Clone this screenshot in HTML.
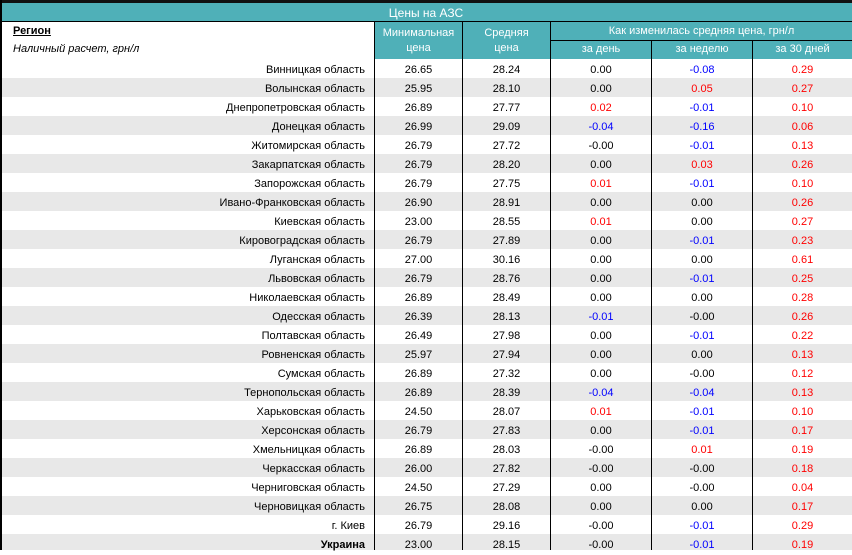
<!DOCTYPE html>
<html><head><meta charset="utf-8"><style>
*{margin:0;padding:0;box-sizing:border-box}
body{width:852px;height:550px;overflow:hidden;background:#fff;font-family:"Liberation Sans",Arial,sans-serif;font-size:11px;color:#000;position:relative}
.a{position:absolute}
.t{position:absolute;text-align:center;color:#fff}
.r{position:absolute;left:0;width:852px;height:19px;line-height:19px}
.r.g{background:#e8e8e8}
.r span{position:absolute;top:2px;text-align:center}
.c0{left:0;width:365px;text-align:right!important}
.c1{left:375px;width:87px}.c2{left:463px;width:87px}.c3{left:551px;width:100px}.c4{left:652px;width:100px}.c5{left:753px;width:99px}
.b{color:#0000ff}.red{color:#ff0000}
.v{position:absolute;top:22px;width:1px;height:528px;background:#000}
</style></head><body>
<div class="a" style="left:0;top:0;width:852px;height:3px;background:#111"></div>
<div class="a" style="left:0;top:3px;width:852px;height:18px;background:#4fb0b8;color:#fff;text-align:center;line-height:20px;font-size:12px">Цены на АЗС</div>
<div class="a" style="left:0;top:21px;width:852px;height:1px;background:#000"></div>
<div class="a" style="left:375px;top:22px;width:477px;height:37px;background:#4fb0b8"></div>
<div class="a" style="left:551px;top:40px;width:301px;height:1px;background:#000"></div>
<div class="a" style="left:13px;top:25px;font-weight:bold;text-decoration:underline">Регион</div>
<div class="a" style="left:13px;top:43px;font-style:italic">Наличный расчет, грн/л</div>
<div class="t" style="left:375px;top:26px;width:87px;line-height:15px">Минимальная<br>цена</div>
<div class="t" style="left:463px;top:26px;width:87px;line-height:15px">Средняя<br>цена</div>
<div class="t" style="left:551px;top:25px;width:301px">Как изменилась средняя цена, грн/л</div>
<div class="t" style="left:551px;top:43px;width:100px">за день</div>
<div class="t" style="left:652px;top:43px;width:100px">за неделю</div>
<div class="t" style="left:753px;top:43px;width:99px">за 30 дней</div>
<div class="r" style="top:59px"><span class="c0">Винницкая область</span><span class="c1">26.65</span><span class="c2">28.24</span><span class="c3">0.00</span><span class="c4 b">-0.08</span><span class="c5 red">0.29</span></div>
<div class="r g" style="top:78px"><span class="c0">Волынская область</span><span class="c1">25.95</span><span class="c2">28.10</span><span class="c3">0.00</span><span class="c4 red">0.05</span><span class="c5 red">0.27</span></div>
<div class="r" style="top:97px"><span class="c0">Днепропетровская область</span><span class="c1">26.89</span><span class="c2">27.77</span><span class="c3 red">0.02</span><span class="c4 b">-0.01</span><span class="c5 red">0.10</span></div>
<div class="r g" style="top:116px"><span class="c0">Донецкая область</span><span class="c1">26.99</span><span class="c2">29.09</span><span class="c3 b">-0.04</span><span class="c4 b">-0.16</span><span class="c5 red">0.06</span></div>
<div class="r" style="top:135px"><span class="c0">Житомирская область</span><span class="c1">26.79</span><span class="c2">27.72</span><span class="c3">-0.00</span><span class="c4 b">-0.01</span><span class="c5 red">0.13</span></div>
<div class="r g" style="top:154px"><span class="c0">Закарпатская область</span><span class="c1">26.79</span><span class="c2">28.20</span><span class="c3">0.00</span><span class="c4 red">0.03</span><span class="c5 red">0.26</span></div>
<div class="r" style="top:173px"><span class="c0">Запорожская область</span><span class="c1">26.79</span><span class="c2">27.75</span><span class="c3 red">0.01</span><span class="c4 b">-0.01</span><span class="c5 red">0.10</span></div>
<div class="r g" style="top:192px"><span class="c0">Ивано-Франковская область</span><span class="c1">26.90</span><span class="c2">28.91</span><span class="c3">0.00</span><span class="c4">0.00</span><span class="c5 red">0.26</span></div>
<div class="r" style="top:211px"><span class="c0">Киевская область</span><span class="c1">23.00</span><span class="c2">28.55</span><span class="c3 red">0.01</span><span class="c4">0.00</span><span class="c5 red">0.27</span></div>
<div class="r g" style="top:230px"><span class="c0">Кировоградская область</span><span class="c1">26.79</span><span class="c2">27.89</span><span class="c3">0.00</span><span class="c4 b">-0.01</span><span class="c5 red">0.23</span></div>
<div class="r" style="top:249px"><span class="c0">Луганская область</span><span class="c1">27.00</span><span class="c2">30.16</span><span class="c3">0.00</span><span class="c4">0.00</span><span class="c5 red">0.61</span></div>
<div class="r g" style="top:268px"><span class="c0">Львовская область</span><span class="c1">26.79</span><span class="c2">28.76</span><span class="c3">0.00</span><span class="c4 b">-0.01</span><span class="c5 red">0.25</span></div>
<div class="r" style="top:287px"><span class="c0">Николаевская область</span><span class="c1">26.89</span><span class="c2">28.49</span><span class="c3">0.00</span><span class="c4">0.00</span><span class="c5 red">0.28</span></div>
<div class="r g" style="top:306px"><span class="c0">Одесская область</span><span class="c1">26.39</span><span class="c2">28.13</span><span class="c3 b">-0.01</span><span class="c4">-0.00</span><span class="c5 red">0.26</span></div>
<div class="r" style="top:325px"><span class="c0">Полтавская область</span><span class="c1">26.49</span><span class="c2">27.98</span><span class="c3">0.00</span><span class="c4 b">-0.01</span><span class="c5 red">0.22</span></div>
<div class="r g" style="top:344px"><span class="c0">Ровненская область</span><span class="c1">25.97</span><span class="c2">27.94</span><span class="c3">0.00</span><span class="c4">0.00</span><span class="c5 red">0.13</span></div>
<div class="r" style="top:363px"><span class="c0">Сумская область</span><span class="c1">26.89</span><span class="c2">27.32</span><span class="c3">0.00</span><span class="c4">-0.00</span><span class="c5 red">0.12</span></div>
<div class="r g" style="top:382px"><span class="c0">Тернопольская область</span><span class="c1">26.89</span><span class="c2">28.39</span><span class="c3 b">-0.04</span><span class="c4 b">-0.04</span><span class="c5 red">0.13</span></div>
<div class="r" style="top:401px"><span class="c0">Харьковская область</span><span class="c1">24.50</span><span class="c2">28.07</span><span class="c3 red">0.01</span><span class="c4 b">-0.01</span><span class="c5 red">0.10</span></div>
<div class="r g" style="top:420px"><span class="c0">Херсонская область</span><span class="c1">26.79</span><span class="c2">27.83</span><span class="c3">0.00</span><span class="c4 b">-0.01</span><span class="c5 red">0.17</span></div>
<div class="r" style="top:439px"><span class="c0">Хмельницкая область</span><span class="c1">26.89</span><span class="c2">28.03</span><span class="c3">-0.00</span><span class="c4 red">0.01</span><span class="c5 red">0.19</span></div>
<div class="r g" style="top:458px"><span class="c0">Черкасская область</span><span class="c1">26.00</span><span class="c2">27.82</span><span class="c3">-0.00</span><span class="c4">-0.00</span><span class="c5 red">0.18</span></div>
<div class="r" style="top:477px"><span class="c0">Черниговская область</span><span class="c1">24.50</span><span class="c2">27.29</span><span class="c3">0.00</span><span class="c4">-0.00</span><span class="c5 red">0.04</span></div>
<div class="r g" style="top:496px"><span class="c0">Черновицкая область</span><span class="c1">26.75</span><span class="c2">28.08</span><span class="c3">0.00</span><span class="c4">0.00</span><span class="c5 red">0.17</span></div>
<div class="r" style="top:515px"><span class="c0">г. Киев</span><span class="c1">26.79</span><span class="c2">29.16</span><span class="c3">-0.00</span><span class="c4 b">-0.01</span><span class="c5 red">0.29</span></div>
<div class="r g" style="top:534px;height:16px"><span class="c0" style="font-weight:bold">Украина</span><span class="c1">23.00</span><span class="c2">28.15</span><span class="c3">-0.00</span><span class="c4 b">-0.01</span><span class="c5 red">0.19</span></div>
<div class="a" style="left:0;top:0;width:2px;height:550px;background:#000"></div>
<div class="v" style="left:374px"></div>
<div class="v" style="left:462px"></div>
<div class="v" style="left:550px"></div>
<div class="v" style="left:651px;top:40px;height:510px"></div>
<div class="v" style="left:752px;top:40px;height:510px"></div>
</body></html>
